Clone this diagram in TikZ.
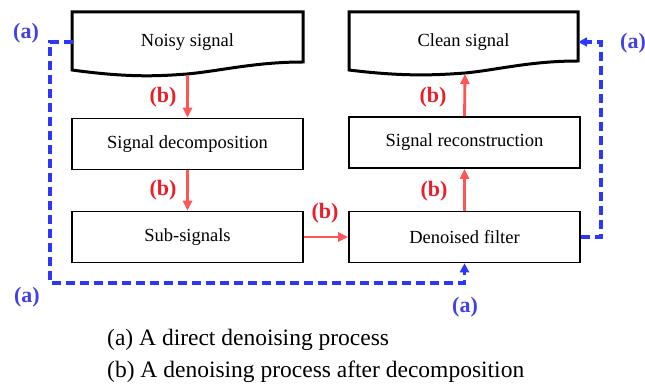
\documentclass[tikz,border=0pt]{standalone}
\usepackage{fontspec}
\setmainfont{Liberation Serif}
\usepackage{tikz}
\usetikzlibrary{positioning, calc, arrows.meta}

\definecolor{arrred}{RGB}{255,85,85}
\definecolor{labred}{RGB}{235,30,40}
\definecolor{arrblue}{RGB}{45,55,250}
\definecolor{labblue}{RGB}{65,65,230}

\tikzset{
  box/.style={draw, line width=1.6pt, minimum width=231pt, minimum height=51pt, inner sep=0pt,
    font=\fontsize{18.5}{20}\selectfont},
  doctext/.style={minimum width=229pt, minimum height=60pt, inner sep=0pt,
    font=\fontsize{18.5}{20}\selectfont},
  docline/.style={line width=3pt, line join=miter},
  redarrow/.style={arrred, line width=2.8pt, -{Triangle[length=10pt,width=9pt]}},
  bluedash/.style={arrblue, line width=3.2pt, dash pattern=on 9pt off 5pt, -{Triangle[length=9pt,width=9pt]}},
  blab/.style={labred, font=\fontsize{22}{24}\selectfont\bfseries},
  alab/.style={labblue, font=\fontsize{22}{24}\selectfont\bfseries},
  legend/.style={anchor=west, inner sep=0pt, font=\fontsize{23.5}{26}\selectfont}
}

\begin{document}
\begin{tikzpicture}[x=1pt, y=-1pt]
        \useasboundingbox (0,0) rectangle (645,387);

        % document shapes
        \draw[docline] (72,70) -- (72,12) -- (303,12) -- (303,62)
          .. controls (255,62) and (220,71) .. (187,74)
          .. controls (160,76) and (130,78) .. (72,70) -- cycle;
        \node[doctext] (noisy) at (187.5,42) {Noisy signal};
        \draw[docline] (349,70) -- (349,12) -- (578,12) -- (578,61)
          .. controls (530,61) and (497,70) .. (465,73)
          .. controls (438,75) and (405,77) .. (349,70) -- cycle;
        \node[doctext] (clean) at (463.5,42) {Clean signal};
        \coordinate (noisywave) at (187.5,75);
        \coordinate (cleanwave) at (465,74);

        % boxes
        \node[box] (decomp) at (187.5,144) {Signal decomposition};
        \node[box] (sub) at (187.5,237) {Sub-signals};
        \node[box] (filter) at (464.5,237) {Denoised filter};
        \node[box] (recon) at (464.5,142.5) {Signal reconstruction};

        % (b) path
        \draw[redarrow] (noisywave) -- (decomp.north);
        \draw[redarrow] (decomp) -- (sub);
        \draw[redarrow] (sub) -- (filter);
        \draw[redarrow] (filter) -- (recon);
        \draw[redarrow] (recon.north) -- (cleanwave);
        \node[blab] (b1) at (163,97) {(b)};
        \node[blab] (b2) at (163,190) {(b)};
        \node[blab] (b3) at (325,213) {(b)};
        \node[blab] (b4) at (434,191) {(b)};
        \node[blab] (b5) at (433,97) {(b)};

        % (a) path
        \coordinate (bl) at (50,283);
        \coordinate (br) at (601,42);
        \draw[bluedash] (noisy.west) -| (bl) -| (filter.south);
        \draw[bluedash] (filter.east) -| (br) -- (clean.east);
        \node[alab] (a1) at (26,33) {(a)};
        \node[alab] (a2) at (633,43) {(a)};
        \node[alab] (a3) at (27,297) {(a)};
        \node[alab] (a4) at (465,307) {(a)};

        % legend
        \node[legend] (lega) at (107,340) {(a) A direct denoising process};
        \node[legend] (legb) at (107,372) {(b) A denoising process after decomposition};
      \end{tikzpicture}
\end{document}
